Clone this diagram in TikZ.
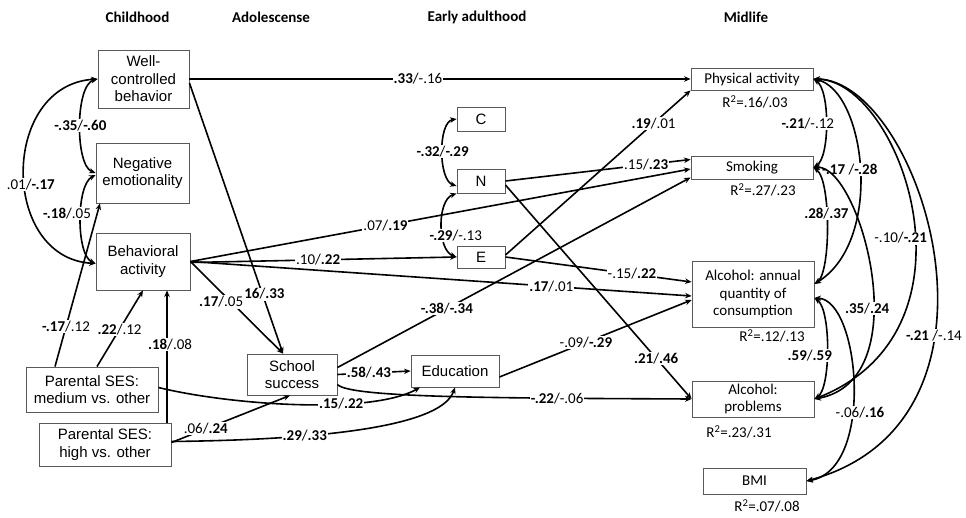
\documentclass[tikz,border=0pt]{standalone}
\usepackage{fontspec}
\setmainfont{Carlito}
\newfontfamily\arialfont{Liberation Sans}
\usetikzlibrary{arrows.meta}
\newcommand{\bv}[1]{\textbf{#1}}

\begin{document}
\begin{tikzpicture}[x=1pt,y=-1pt,
		box/.style={draw=black!65,line width=0.9pt,align=center,inner sep=0pt,
			font=\arialfont\fontsize{15}{17.5}\selectfont},
		outbox/.style={box,font=\fontsize{15}{17.5}\selectfont},
		hdr/.style={font=\bfseries\fontsize{15}{18}\selectfont},
		lbl/.style={fill=white,inner sep=1pt,font=\fontsize{15}{18}\selectfont},
		rsq/.style={font=\fontsize{15}{18}\selectfont},
		eff/.style={line width=1.6pt,-{Stealth[length=6.5pt,width=5.5pt]}},
		cor/.style={line width=1.6pt,{Stealth[length=6.5pt,width=5.5pt]}-{Stealth[length=6.5pt,width=5.5pt]}}]
	\useasboundingbox (0,0) rectangle (966,517);
	
	% Column titles
	\node[hdr] (t1) at (137.5,17) {Childhood};
	\node[hdr] (t2) at (271,17) {Adolescense};
	\node[hdr] (t3) at (477,17) {Early adulthood};
	\node[hdr] (t4) at (746,17) {Midlife};
	
	% Childhood
	\node[box,minimum width=91pt,minimum height=58pt] (wc) at (143.5,79) {Well-\\controlled\\behavior};
	\node[box,minimum width=93pt,minimum height=60pt] (ne) at (142.5,173) {Negative\\emotionality};
	\node[box,minimum width=94pt,minimum height=57pt] (ba) at (143,261.5) {Behavioral\\activity};
	\node[box,minimum width=132pt,minimum height=45pt] (psm) at (92,389.5) {Parental SES:\\medium vs. other};
	\node[box,minimum width=132pt,minimum height=43pt] (psh) at (105,444.5) {Parental SES:\\high vs. other};
	
	% Adolescence and early adulthood
	\node[box,minimum width=90pt,minimum height=41pt] (ss) at (292,374.5) {School\\success};
	\node[box,minimum width=88pt,minimum height=32pt] (edu) at (455,371) {Education};
	\node[box,minimum width=48pt,minimum height=24pt] (c) at (481,119) {C};
	\node[box,minimum width=48pt,minimum height=24pt] (n) at (481,181) {N};
	\node[box,minimum width=48pt,minimum height=22pt] (e) at (481,257) {E};
	
	% Midlife
	\node[outbox,minimum width=122pt,minimum height=22pt] (pa) at (752,79) {Physical activity};
	\node[outbox,minimum width=122pt,minimum height=23pt] (sm) at (752,167.5) {Smoking};
	\node[outbox,minimum width=122pt,minimum height=66pt] (alca) at (753,294) {Alcohol: annual\\quantity of\\consumption};
	\node[outbox,minimum width=122pt,minimum height=36pt] (alcp) at (753,399) {Alcohol:\\problems};
	\node[outbox,minimum width=103pt,minimum height=26pt] (bmi) at (754.5,481) {BMI};
	
	\node[rsq] (r1) at (755,102) {R\textsuperscript{2}=.16/.03};
	\node[rsq] (r2) at (763,190) {R\textsuperscript{2}=.27/.23};
	\node[rsq] (r3) at (772,336) {R\textsuperscript{2}=.12/.13};
	\node[rsq] (r4) at (739,432) {R\textsuperscript{2}=.23/.31};
	\node[rsq] (r5) at (767,506) {R\textsuperscript{2}=.07/.08};
	
	% Paths
	\draw[eff] (wc.east) -- node[lbl,pos=.456] {\bv{.33}/-.16} (pa.west);
	\draw[eff] ([yshift=-4pt]wc.east) -- node[lbl,pos=.78] {\bv{.16}/\bv{.33}} ([xshift=-9pt]ss.north);
	\draw[eff] (ba.east) -- node[lbl,pos=.44,xshift=-10pt] {\bv{.17}/.05} ([xshift=-9pt]ss.north);
	\draw[eff] ([yshift=-1pt]ba.east) -- node[lbl,pos=.48] {.10/\bv{.22}} (e.west);
	\draw[eff] (ba.east) -- node[lbl,pos=.39] {.07/\bv{.19}} ([yshift=-1.5pt]sm.west);
	\draw[eff] (ba.east) -- node[lbl,pos=.72] {\bv{.17}/.01} ([yshift=-2pt]alca.west);
	\draw[eff] ([xshift=-37pt]psm.north) -- node[lbl,pos=.245] {\bv{-.17}/.12} ([xshift=-42.5pt]ne.south);
	\draw[eff] ([xshift=5pt]psm.north) -- node[lbl,pos=.49] {\bv{.22}/.12} (ba.south);
	\draw[eff] ([xshift=62pt]psh.north) -- node[lbl,pos=.59,xshift=3pt] {\bv{.18}/.08} ([xshift=24pt]ba.south);
	\draw[eff] ([yshift=2pt]psh.east) -- node[lbl,pos=.29] {.06/\bv{.24}} ([xshift=-2pt]ss.south);
	\draw[eff] ([yshift=2pt]psm.east) .. controls (230,405) and (370,415) .. node[lbl,pos=.65] {\bv{.15}/\bv{.22}} ([xshift=-35pt]edu.south);
	\draw[eff] ([yshift=3pt]psh.east) .. controls (300,440) and (440,430) .. node[lbl,pos=.35] {\bv{.29}/\bv{.33}} (edu.south);
	\draw[eff] (ss.east) -- node[lbl,pos=.43] {\bv{.58}/\bv{.43}} (edu.west);
	\draw[eff] ([yshift=7pt]ss.east) -- node[lbl,pos=.31] {\bv{-.38}/\bv{-.34}} ([yshift=-10pt]sm.west);
	\draw[eff] ([yshift=-10pt]ss.east) .. controls (350,398) and (500,398) .. node[lbl,pos=.75] {\bv{-.22}/-.06} (alcp.west);
	\draw[eff] ([yshift=-6pt]edu.east) -- node[lbl,pos=.45] {-.09/\bv{-.29}} ([yshift=-6pt]alca.west);
	\draw[eff] ([yshift=2pt]e.east) -- node[lbl,pos=.8] {\bv{.19}/.01} (pa.south west);
	\draw[eff] (e.east) -- node[lbl,pos=.68] {-.15/\bv{.22}} ([yshift=12pt]alca.west);
	\draw[eff] (n.east) -- node[lbl,pos=.76] {.15/\bv{.23}} ([yshift=8pt]sm.west);
	\draw[eff] ([yshift=-4pt]n.east) -- node[lbl,pos=.81] {\bv{.21}/\bv{.46}} (alcp.west);
	
	% Correlations, childhood
	\draw[cor] (wc.west) .. controls (75,85) and (75,165) .. node[lbl,pos=.5] {\bv{-.35}/\bv{-.60}} (ne.west);
	\draw[cor] ([yshift=-2pt]ne.west) .. controls (76,185) and (76,255) .. node[lbl,pos=.45,xshift=-14pt] {\bv{-.18}/.05} ([yshift=-2pt]ba.west);
	\draw[cor] (wc.west) .. controls (0,85) and (0,258) .. node[lbl,pos=.55,xshift=6pt] {.01/\bv{-.17}} ([yshift=-2pt]ba.west);
	
	% Correlations, early adulthood
	\draw[cor] (c.west) .. controls (438,122) and (438,180) .. node[lbl,pos=.5] {\bv{-.32}/\bv{-.29}} ([yshift=-5pt]n.west);
	\draw[cor] (n.south west) .. controls (437,200) and (437,250) .. node[lbl,pos=.62,xshift=13pt] {\bv{-.29}/-.13} (e.west);
	
	% Correlations, midlife
	\draw[cor] (pa.east) .. controls (830,90) and (830,157) .. node[lbl,pos=.5,xshift=-18pt] {\bv{-.21}/-.12} (sm.east);
	\draw[cor] (pa.east) .. controls (865,90) and (885,240) .. node[lbl,pos=.5,xshift=-10pt] {\bv{-.17} /\bv{-.28}} ([yshift=10pt]alca.east);
	\draw[cor] (pa.east) .. controls (900,80) and (990,330) .. node[lbl,pos=.55,xshift=-14pt,yshift=-3pt] {-.10/\bv{-.21}} (alcp.east);
	\draw[cor] (pa.east) .. controls (920,80) and (1030,420) .. node[lbl,pos=.64] {\bv{-.21} /-.14} (bmi.east);
	\draw[cor] (sm.east) .. controls (831,180) and (831,272) .. node[lbl,pos=.42] {\bv{.28}/\bv{.37}} ([yshift=10pt]alca.east);
	\draw[cor] (sm.east) .. controls (860,165) and (920,380) .. node[lbl,pos=.6,xshift=-6pt] {\bv{.35}/\bv{.24}} (alcp.east);
	\draw[cor] ([yshift=-4pt]alca.east) .. controls (831,310) and (831,388) .. node[lbl,pos=.55,xshift=-17pt] {\bv{.59}/\bv{.59}} (alcp.east);
	\draw[cor] ([yshift=-4pt]alca.east) .. controls (860,300) and (875,470) .. node[lbl,pos=.6,xshift=8pt] {-.06/\bv{.16}} (bmi.east);
\end{tikzpicture}
\end{document}
